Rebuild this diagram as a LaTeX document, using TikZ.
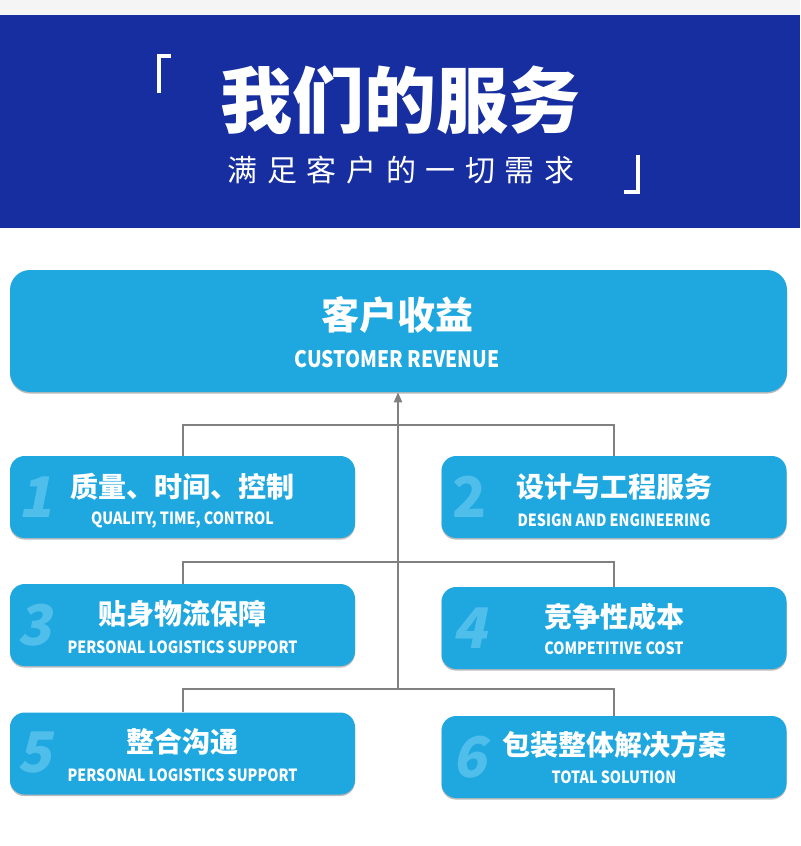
\documentclass[tikz,border=0pt]{standalone}
\usepackage{fontspec}
\usetikzlibrary{shadows,arrows.meta}
\newfontfamily\cjk{Noto Sans CJK SC}
\newfontfamily\encond{Noto Sans CJK SC}[FakeStretch=0.85]
\newfontfamily\cjkspaced{Noto Sans CJK SC}[LetterSpace=32]
\newfontfamily\numfont{Noto Sans CJK SC}[FakeSlant=0.2]
\definecolor{bandblue}{RGB}{22,46,160}
\definecolor{boxblue}{RGB}{31,168,224}
\definecolor{numblue}{RGB}{80,190,235}
\definecolor{topgray}{RGB}{245,245,245}
\definecolor{linegray}{RGB}{128,128,128}
\tikzset{
  boxstyle/.style={fill=boxblue, rounded corners=11pt, minimum width=258.75pt, minimum height=61.5pt, inner sep=0pt,
    drop shadow={shadow xshift=0pt, shadow yshift=-1.2pt, opacity=0.45, fill=black!60}},
  topbox/.style={boxstyle, rounded corners=15pt, minimum width=582.75pt, minimum height=91.5pt},
  cn/.style={text=white, inner sep=0pt, font=\cjk\bfseries\fontsize{21}{21}\selectfont},
  cnbig/.style={text=white, inner sep=0pt, font=\cjk\bfseries\fontsize{28.5}{28.5}\selectfont},
  en/.style={text=white, inner sep=0pt, font=\encond\bfseries\fontsize{12.6}{12.6}\selectfont},
  enbig/.style={text=white, inner sep=0pt, font=\encond\bfseries\fontsize{17}{17}\selectfont},
  num/.style={text=numblue, inner sep=0pt, font=\numfont\bfseries\fontsize{42}{42}\selectfont},
  conn/.style={draw=linegray, line width=1.5pt},
  bracket/.style={draw=white, line width=2.4pt},
}
\begin{document}
\begin{tikzpicture}[x=0.75pt,y=-0.75pt]
\useasboundingbox (0,0) rectangle (800,846);
\fill[white] (0,0) rectangle (800,846);
\fill[topgray] (0,0) rectangle (800,15);
\fill[bandblue] (0,15) rectangle (800,228);

% header
\node[text=white, inner sep=0pt, font=\cjk\bfseries\fontsize{54}{54}\selectfont] (title) at (400,100) {我们的服务};
\node[text=white, inner sep=0pt, font=\cjkspaced\fontsize{22.5}{22.5}\selectfont] (subtitle) at (401,170) {满足客户的一切需求};
\draw[bracket] (171,56) -- (159,56) -- (159,93);
\draw[bracket] (638,155) -- (638,192) -- (624,192);

% top box
\node[topbox] (top) at (398.5,331) {};
\node[cnbig] (topcn) at (397,315) {客户收益};
\node[enbig] (topen) at (397,359) {CUSTOMER REVENUE};

% boxes
\node[boxstyle] (b1) at (182.5,497) {};
\node[boxstyle] (b2) at (614,497) {};
\node[boxstyle] (b3) at (182.5,625) {};
\node[boxstyle] (b4) at (614,628) {};
\node[boxstyle] (b5) at (182.5,753.5) {};
\node[boxstyle] (b6) at (614,757) {};

\node[num] (n1) at (36,497) {1};
\node[num, font=\cjk\bfseries\fontsize{42}{42}\selectfont] (n2) at (470,497) {2};
\node[num] (n3) at (35,625) {3};
\node[num] (n4) at (470,628) {4};
\node[num] (n5) at (35,753) {5};
\node[num] (n6) at (470,757) {6};

\node[cn] (c1) at (182.5,487) {质量、时间、控制};
\node[en] (e1) at (182.5,520) {QUALITY, TIME, CONTROL};
\node[cn] (c2) at (614,487) {设计与工程服务};
\node[en] (e2) at (614,520) {DESIGN AND ENGINEERING};
\node[cn] (c3) at (182.5,614) {贴身物流保障};
\node[en] (e3) at (182.5,647) {PERSONAL LOGISTICS SUPPORT};
\node[cn] (c4) at (614,617) {竞争性成本};
\node[en] (e4) at (614,648) {COMPETITIVE COST};
\node[cn] (c5) at (182.5,742) {整合沟通};
\node[en] (e5) at (182.5,775) {PERSONAL LOGISTICS SUPPORT};
\node[cn] (c6) at (614,745) {包装整体解决方案};
\node[en] (e6) at (614,777) {TOTAL SOLUTION};

% connectors
\coordinate (j1) at (398,425);
\coordinate (j2) at (398,562);
\coordinate (j3) at (398,689);
\draw[conn] (b1.north) |- (j1) -| (b2.north);
\draw[conn] (b3.north) |- (j2) -| (b4.north);
\draw[conn] (b5.north) |- (j3) -| (b6.north);
\draw[conn, -{Triangle[length=7.5pt,width=6pt]}] (j3) -- (j3 |- top.south);
\end{tikzpicture}
\end{document}
